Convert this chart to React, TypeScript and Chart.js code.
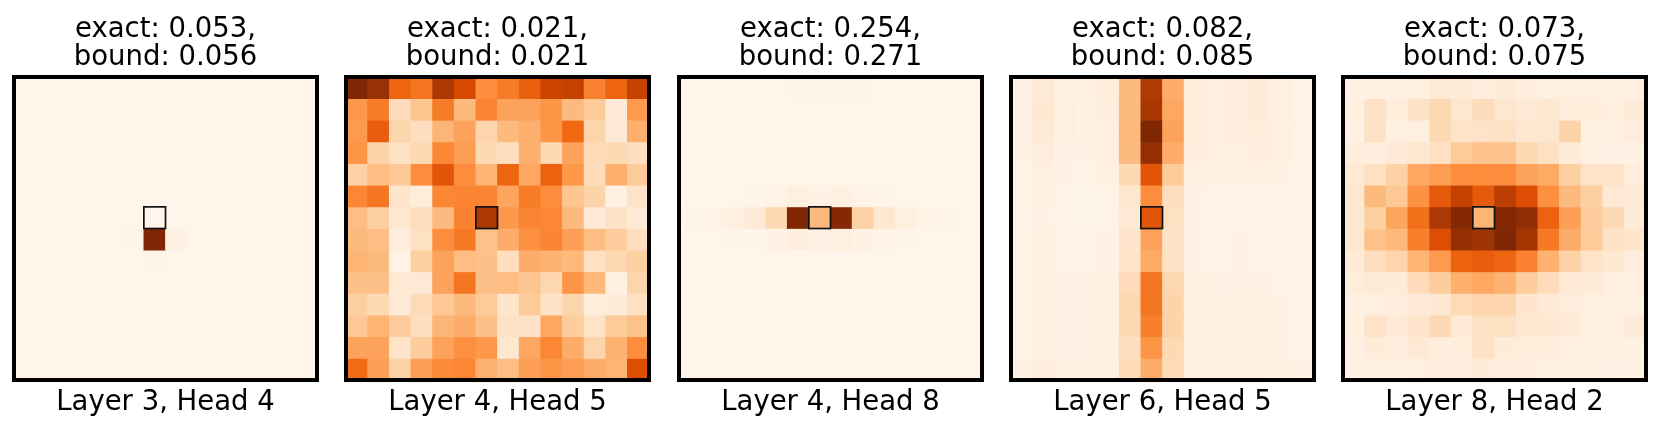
import React, { useEffect, useRef } from "react";
import { Chart, registerables } from "chart.js";

Chart.register(...registerables);

const titles = [
  ["exact: 0.053,", "bound: 0.056"],
  ["exact: 0.021,", "bound: 0.021"],
  ["exact: 0.254,", "bound: 0.271"],
  ["exact: 0.082,", "bound: 0.085"],
  ["exact: 0.073,", "bound: 0.075"],
];
const xLabels = ["Layer 3, Head 4", "Layer 4, Head 5", "Layer 4, Head 8", "Layer 6, Head 5", "Layer 8, Head 2"];
const columns = ["0", "1", "2", "3", "4", "5", "6", "7", "8", "9", "10", "11", "12", "13"];
const marked = { row: 6, col: 6 };

const layer3Head4 = [
  [0, 0, 0, 0, 0, 0, 0, 0, 0, 0, 0, 0, 0, 0],
  [0, 0, 0, 0, 0, 0, 0, 0, 0, 0, 0, 0, 0, 0],
  [0, 0, 0, 0, 0, 0, 0, 0, 0, 0, 0, 0, 0, 0],
  [0, 0, 0, 0, 0, 0, 0, 0, 0, 0, 0, 0, 0, 0],
  [0, 0, 0, 0, 0, 0, 0, 0, 0, 0, 0, 0, 0, 0],
  [0, 0, 0, 0, 0, 0, 0, 0, 0, 0, 0, 0, 0, 0],
  [0, 0, 0, 0, 0, 0, 0, 0, 0, 0, 0, 0, 0, 0],
  [0, 0, 0, 0, 0, 0.008, 1, 0.025, 0, 0, 0, 0, 0, 0],
  [0, 0, 0, 0, 0, 0, 0.008, 0, 0, 0, 0, 0, 0, 0],
  [0, 0, 0, 0, 0, 0, 0, 0, 0, 0, 0, 0, 0, 0],
  [0, 0, 0, 0, 0, 0, 0, 0, 0, 0, 0, 0, 0, 0],
  [0, 0, 0, 0, 0, 0, 0, 0, 0, 0, 0, 0, 0, 0],
  [0, 0, 0, 0, 0, 0, 0, 0, 0, 0, 0, 0, 0, 0],
  [0, 0, 0, 0, 0, 0, 0, 0, 0, 0, 0, 0, 0, 0],
];
const layer4Head5 = [
  [1, 0.92, 0.64, 0.58, 0.86, 0.75, 0.5, 0.56, 0.66, 0.78, 0.8, 0.54, 0.64, 0.8],
  [0.46, 0.56, 0.18, 0.29, 0.56, 0.33, 0.53, 0.42, 0.42, 0.47, 0.33, 0.27, 0.09, 0.45],
  [0.45, 0.67, 0.22, 0.17, 0.35, 0.42, 0.22, 0.33, 0.37, 0.47, 0.63, 0.22, 0.1, 0.37],
  [0.47, 0.23, 0.16, 0.2, 0.52, 0.44, 0.2, 0.17, 0.37, 0.2, 0.42, 0.19, 0.2, 0.17],
  [0.24, 0.32, 0.28, 0.5, 0.7, 0.5, 0.35, 0.64, 0.4, 0.65, 0.46, 0.18, 0.37, 0.27],
  [0.52, 0.58, 0.13, 0.07, 0.52, 0.53, 0.53, 0.41, 0.56, 0.5, 0.29, 0.23, 0.04, 0.14],
  [0.32, 0.25, 0.12, 0.17, 0.33, 0.54, 0.86, 0.46, 0.53, 0.52, 0.33, 0.09, 0.15, 0.09],
  [0.33, 0.32, 0.06, 0.16, 0.5, 0.57, 0.3, 0.38, 0.49, 0.53, 0.43, 0.32, 0.26, 0.17],
  [0.35, 0.33, 0.02, 0.25, 0.42, 0.32, 0.31, 0.17, 0.38, 0.36, 0.34, 0.16, 0.21, 0.25],
  [0.31, 0.31, 0.1, 0.1, 0.42, 0.58, 0.31, 0.32, 0.29, 0.21, 0.47, 0.34, 0.04, 0.22],
  [0.25, 0.2, 0.1, 0.19, 0.28, 0.33, 0.27, 0.13, 0.27, 0.15, 0.22, 0.07, 0.08, 0.16],
  [0.28, 0.35, 0.27, 0.17, 0.35, 0.38, 0.31, 0.15, 0.15, 0.4, 0.26, 0.14, 0.27, 0.3],
  [0.42, 0.42, 0.14, 0.26, 0.42, 0.49, 0.46, 0.12, 0.4, 0.52, 0.38, 0.22, 0.36, 0.5],
  [0.62, 0.43, 0.24, 0.43, 0.51, 0.52, 0.36, 0.32, 0.43, 0.47, 0.44, 0.38, 0.35, 0.73],
];
const layer4Head8 = [
  [0, 0, 0, 0, 0, 0.005, 0.005, 0.005, 0.005, 0, 0, 0, 0, 0],
  [0, 0, 0, 0, 0, 0, 0, 0, 0, 0, 0, 0, 0, 0],
  [0, 0, 0, 0, 0, 0, 0, 0, 0, 0, 0, 0, 0, 0],
  [0, 0, 0, 0, 0, 0, 0, 0, 0, 0, 0, 0, 0, 0],
  [0, 0, 0, 0, 0, 0, 0, 0, 0, 0, 0, 0, 0, 0],
  [0, 0, 0, 0.01, 0.02, 0.05, 0.03, 0.04, 0.015, 0.01, 0, 0, 0, 0],
  [0.005, 0.015, 0.04, 0.08, 0.2, 1, 0.33, 0.98, 0.24, 0.11, 0.05, 0.02, 0.01, 0],
  [0, 0, 0.01, 0.01, 0.03, 0.06, 0.03, 0.05, 0.03, 0.02, 0.01, 0, 0, 0],
  [0, 0, 0, 0, 0, 0, 0, 0, 0, 0, 0, 0, 0, 0],
  [0, 0, 0, 0, 0, 0, 0, 0, 0, 0, 0, 0, 0, 0],
  [0, 0, 0, 0, 0, 0, 0, 0, 0, 0, 0, 0, 0, 0],
  [0, 0, 0, 0, 0, 0, 0, 0, 0, 0, 0, 0, 0, 0],
  [0, 0, 0, 0, 0.004, 0.004, 0.004, 0.004, 0.004, 0, 0, 0, 0, 0],
  [0, 0, 0, 0, 0, 0, 0, 0, 0, 0, 0, 0, 0, 0],
];
const layer6Head5 = [
  [0.03, 0.09, 0.05, 0.04, 0.07, 0.33, 0.85, 0.38, 0.07, 0.05, 0.06, 0.08, 0.04, 0.02],
  [0.03, 0.11, 0.05, 0.03, 0.06, 0.33, 0.87, 0.4, 0.07, 0.05, 0.06, 0.08, 0.04, 0.02],
  [0.03, 0.09, 0.05, 0.03, 0.05, 0.34, 1, 0.42, 0.07, 0.05, 0.06, 0.07, 0.04, 0.02],
  [0.03, 0.07, 0.03, 0.03, 0.05, 0.33, 0.93, 0.38, 0.06, 0.04, 0.05, 0.06, 0.04, 0.02],
  [0.02, 0.05, 0.03, 0.02, 0.04, 0.2, 0.7, 0.27, 0.04, 0.03, 0.04, 0.04, 0.03, 0.02],
  [0.02, 0.04, 0.02, 0.01, 0.02, 0.12, 0.5, 0.17, 0.03, 0.02, 0.02, 0.02, 0.02, 0.015],
  [0.02, 0.03, 0.02, 0.01, 0.02, 0.1, 0.7, 0.16, 0.03, 0.02, 0.02, 0.02, 0.02, 0.015],
  [0.02, 0.04, 0.02, 0.02, 0.03, 0.13, 0.42, 0.15, 0.03, 0.02, 0.03, 0.02, 0.02, 0.015],
  [0.02, 0.04, 0.02, 0.02, 0.03, 0.14, 0.39, 0.15, 0.03, 0.02, 0.03, 0.02, 0.02, 0.015],
  [0.02, 0.04, 0.03, 0.03, 0.04, 0.18, 0.58, 0.21, 0.04, 0.03, 0.03, 0.03, 0.02, 0.015],
  [0.02, 0.04, 0.03, 0.03, 0.04, 0.21, 0.58, 0.23, 0.04, 0.03, 0.04, 0.04, 0.03, 0.015],
  [0.02, 0.05, 0.03, 0.03, 0.04, 0.2, 0.55, 0.23, 0.04, 0.03, 0.04, 0.04, 0.03, 0.015],
  [0.02, 0.05, 0.03, 0.03, 0.04, 0.17, 0.47, 0.2, 0.04, 0.04, 0.04, 0.04, 0.03, 0.02],
  [0.03, 0.06, 0.04, 0.03, 0.04, 0.19, 0.38, 0.19, 0.05, 0.05, 0.05, 0.05, 0.04, 0.03],
];
const layer8Head2 = [
  [0.03, 0.04, 0.04, 0.05, 0.1, 0.08, 0.06, 0.08, 0.06, 0.05, 0.05, 0.05, 0.03, 0.04],
  [0.05, 0.15, 0.07, 0.15, 0.2, 0.12, 0.18, 0.12, 0.1, 0.12, 0.07, 0.07, 0.05, 0.09],
  [0.03, 0.15, 0.05, 0.05, 0.2, 0.14, 0.14, 0.16, 0.11, 0.12, 0.23, 0.04, 0.05, 0.07],
  [0.06, 0.06, 0.09, 0.12, 0.16, 0.27, 0.3, 0.3, 0.2, 0.16, 0.08, 0.04, 0.03, 0.03],
  [0.1, 0.16, 0.24, 0.4, 0.44, 0.5, 0.5, 0.5, 0.42, 0.39, 0.25, 0.14, 0.14, 0.07],
  [0.12, 0.33, 0.28, 0.48, 0.68, 0.8, 0.68, 0.82, 0.73, 0.49, 0.33, 0.25, 0.1, 0.09],
  [0.12, 0.25, 0.41, 0.6, 0.86, 0.98, 0.35, 0.99, 0.95, 0.65, 0.43, 0.26, 0.2, 0.08],
  [0.12, 0.3, 0.34, 0.55, 0.73, 0.93, 0.9, 1, 0.88, 0.57, 0.38, 0.27, 0.15, 0.13],
  [0.08, 0.17, 0.22, 0.35, 0.45, 0.65, 0.67, 0.64, 0.54, 0.36, 0.24, 0.14, 0.11, 0.06],
  [0.07, 0.09, 0.08, 0.18, 0.26, 0.37, 0.4, 0.36, 0.26, 0.18, 0.09, 0.08, 0.05, 0.05],
  [0.04, 0.05, 0.06, 0.09, 0.11, 0.19, 0.22, 0.22, 0.13, 0.09, 0.07, 0.05, 0.04, 0.03],
  [0.05, 0.14, 0.09, 0.13, 0.2, 0.1, 0.16, 0.16, 0.11, 0.11, 0.09, 0.04, 0.04, 0.09],
  [0.03, 0.08, 0.06, 0.1, 0.06, 0.07, 0.15, 0.08, 0.07, 0.07, 0.04, 0.04, 0.04, 0.03],
  [0.03, 0.04, 0.04, 0.05, 0.07, 0.06, 0.08, 0.06, 0.06, 0.04, 0.04, 0.04, 0.03, 0.03],
];
const grids = [layer3Head4, layer4Head5, layer4Head8, layer6Head5, layer8Head2];
const frameLefts = [14, 346.3, 679, 1011, 1343.3];

const oranges = [
  [255, 245, 235], [254, 230, 206], [253, 208, 162], [253, 174, 107], [253, 141, 60],
  [241, 105, 19], [217, 72, 1], [166, 54, 3], [127, 39, 4],
];
function orange(v: number): string {
  const t = Math.min(Math.max(v, 0), 1) * (oranges.length - 1);
  const i = Math.min(Math.floor(t), oranges.length - 2);
  const f = t - i;
  const c = oranges[i].map((a, k) => Math.round(a + (oranges[i + 1][k] - a) * f));
  return `rgb(${c[0]},${c[1]},${c[2]})`;
}

const FONT = "'DejaVu Sans'";
const CANVAS_W = 332;
const PAD_X = 14;
const FRAME = 303;

const framePlugin = {
  id: "frame",
  afterDatasetsDraw(chart: any) {
    const { ctx, chartArea: a, scales } = chart;
    const half = (a.right - a.left) / 28;
    const x0 = scales.x.getPixelForValue(marked.col) - half;
    const x1 = scales.x.getPixelForValue(marked.col) + half;
    const y0 = scales.y.getPixelForValue(marked.row);
    const y1 = scales.y.getPixelForValue(marked.row + 1);
    ctx.save();
    ctx.strokeStyle = "#111";
    ctx.lineWidth = 1.7;
    ctx.strokeRect(x0, y0, x1 - x0, y1 - y0);
    ctx.strokeStyle = "#000";
    ctx.lineWidth = 4;
    ctx.strokeRect(a.left, a.top, a.right - a.left, a.bottom - a.top);
    ctx.restore();
  },
};

function Panel({ index }: { index: number }) {
  const ref = useRef<HTMLCanvasElement>(null);
  useEffect(() => {
    const grid = grids[index];
    const chart = new Chart(ref.current!, {
      type: "bar",
      data: {
        labels: columns,
        datasets: grid.map((row, r) => ({
          label: `row ${r}`,
          data: row.map(() => [r, r + 1] as [number, number]),
          backgroundColor: row.map(orange),
          borderWidth: 0,
          barPercentage: 1,
          categoryPercentage: 1,
          grouped: false,
        })),
      },
      options: {
        responsive: false,
        animation: false,
        layout: { padding: { left: PAD_X, right: CANVAS_W - PAD_X - FRAME, top: 0, bottom: 0 } },
        plugins: {
          legend: { display: false },
          tooltip: { enabled: false },
          title: {
            display: true,
            text: titles[index],
            color: "#000",
            font: { family: FONT, size: 27.5, weight: "normal", lineHeight: 1.05 },
            padding: { top: 15, bottom: 4.25 },
          },
        },
        scales: {
          x: {
            type: "category",
            grid: { display: false, drawTicks: false },
            border: { display: false },
            ticks: { display: false },
            title: {
              display: true,
              text: xLabels[index],
              color: "#000",
              font: { family: FONT, size: 27.5, weight: "normal", lineHeight: 1.05 },
              padding: { top: 8.2, bottom: 11.9 },
            },
          },
          y: { type: "linear", display: false, reverse: true, min: 0, max: 14 },
        },
      },
      plugins: [framePlugin],
    } as any);
    return () => chart.destroy();
  }, [index]);
  return (
    <canvas
      ref={ref}
      width={CANVAS_W}
      height={429}
      style={{ position: "absolute", left: frameLefts[index] - PAD_X, top: 0, width: CANVAS_W, height: 429, display: "block" }}
    />
  );
}

export default function App() {
  return (
    <div style={{ position: "fixed", left: 0, top: 0, width: 1661, height: 429, background: "#fff", overflow: "hidden" }}>
      {grids.map((_, i) => (
        <Panel key={i} index={i} />
      ))}
    </div>
  );
}
